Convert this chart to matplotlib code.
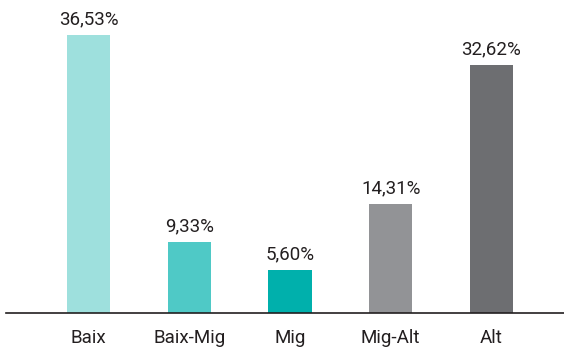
import numpy as np
import matplotlib
matplotlib.use('Agg')
import matplotlib.pyplot as plt

plt.rcParams['font.family'] = ['Roboto', 'DejaVu Sans']

categories = ['Baix', 'Baix-Mig', 'Mig', 'Mig-Alt', 'Alt']
values = [36.53, 9.33, 5.60, 14.31, 32.62]
labels = ['36,53%', '9,33%', '5,60%', '14,31%', '32,62%']
colors = ['#9ee0dd', '#4fc9c6', '#00b0ac', '#929396', '#6d6e71']

fig = plt.figure(figsize=(5.64, 3.55), dpi=100)
ax = fig.add_axes([6/564, 42.5/355, 558/564, 312.5/355])

x = np.arange(len(categories))
ax.bar(x, values, width=0.43, color=colors, zorder=2)
for xi, v, lab in zip(x, values, labels):
    ax.text(xi, v + 0.9, lab, ha='center', va='bottom', fontsize=13.5,
            color='#231f20')

ax.set_xlim(-0.819, 4.72)
ax.set_ylim(0, 41.2)
ax.set_xticks(x)
ax.set_xticklabels(categories, fontsize=13.5, color='#231f20')
ax.tick_params(axis='x', length=0, pad=12)
ax.set_yticks([])
for s in ['top', 'right', 'left']:
    ax.spines[s].set_visible(False)
ax.spines['bottom'].set_color('#231f20')
ax.spines['bottom'].set_linewidth(1.2)
ax.spines['bottom'].set_zorder(3)

fig.savefig('out.png', dpi=100)
